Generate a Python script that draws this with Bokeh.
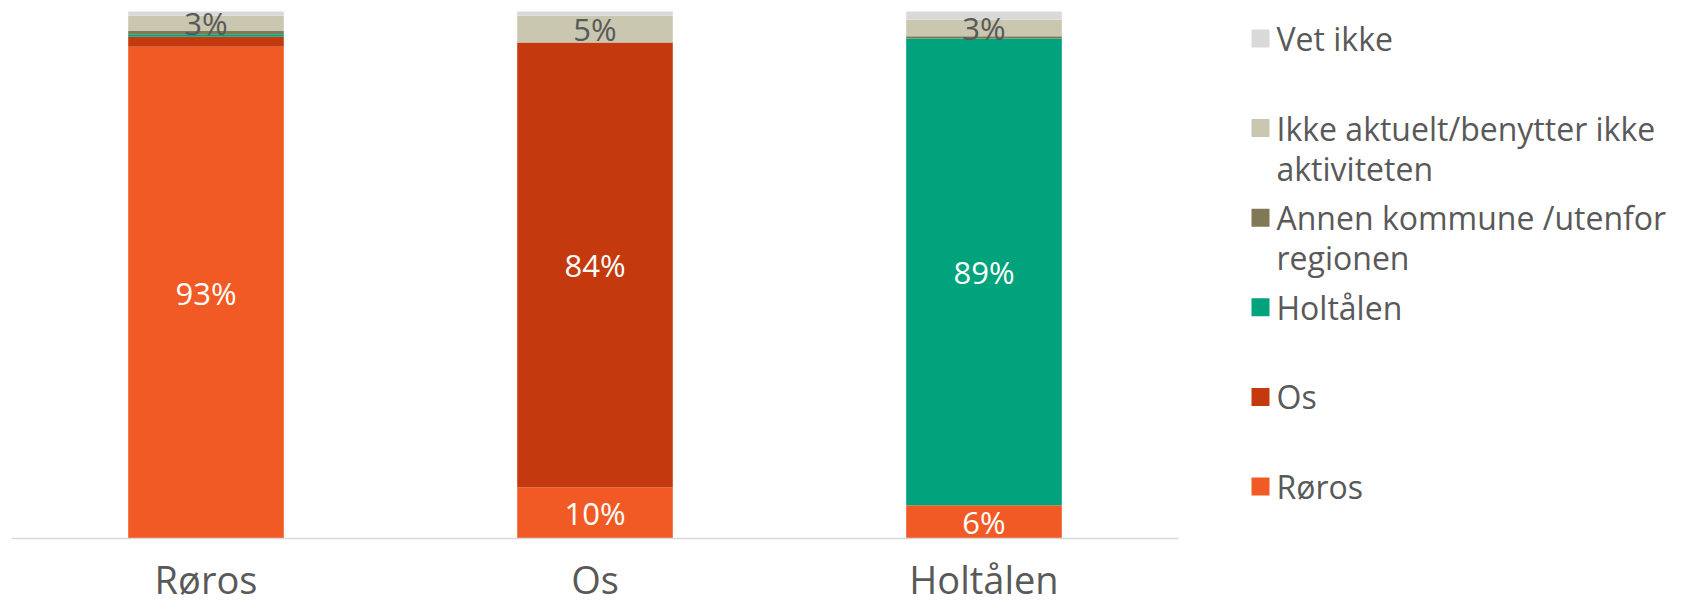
from bokeh.plotting import figure
from bokeh.models import ColumnDataSource, FactorRange, Range1d
from bokeh.layouts import row
from bokeh.core.properties import value
from bokeh.embed import file_html
from bokeh.resources import INLINE

# ---- data ----
categories = ["Røros", "Os", "Holtålen"]
series_names = ["Røros", "Os", "Holtålen", "Annen kommune /utenfor regionen",
                "Ikke aktuelt/benytter ikke aktiviteten", "Vet ikke"]
legend_labels = ["Røros", "Os", "Holtålen", "Annen kommune /utenfor\nregionen",
                 "Ikke aktuelt/benytter ikke\naktiviteten", "Vet ikke"]
roros = [93.3, 9.7, 6.3]
os_ = [1.9, 84.4, 0.0]
holtalen = [0.5, 0.0, 88.6]
annen = [0.6, 0.0, 0.4]
ikke_aktuelt = [2.9, 5.1, 3.2]
vet_ikke = [0.8, 0.8, 1.5]
colors = ["#F15A24", "#C43A0E", "#00A37C", "#7F7A55", "#C9C7B0", "#D9D9D9"]
label_colors = ["white", "white", "white", "white", "#595959", "#595959"]

series = [roros, os_, holtalen, annen, ikke_aktuelt, vet_ikke]
keys = ["s%d" % i for i in range(len(series))]

FONT = "Open Sans"
GREY = "#595959"

data = {"cat": categories}
for k, s in zip(keys, series):
    data[k] = s
src = ColumnDataSource(data)

FRAME_H = 538          # frame from page top to axis line
TOP_PAD = 11           # 100% line sits 11px below frame top
y_end = 100.0 * FRAME_H / (FRAME_H - TOP_PAD)

p = figure(x_range=FactorRange(*categories, range_padding=0),
           y_range=Range1d(0, y_end),
           frame_width=1167, frame_height=FRAME_H,
           min_border_left=11, min_border_top=0, min_border_right=52,
           min_border_bottom=64, title=None,
           output_backend="svg", toolbar_location=None)
p.vbar_stack(keys, x="cat", width=0.4, color=colors, line_color=None, source=src)

# segment labels
lx, ly, lt, lc = [], [], [], []
for j, cat in enumerate(categories):
    base = 0.0
    for i, s in enumerate(series):
        v = s[j]
        if v >= 2.5:
            lx.append(cat)
            ly.append(base + v / 2)
            lt.append("%d%%" % round(v))
            lc.append(label_colors[i])
        base += v
p.text(x=lx, y=ly, text=lt, text_color=lc, text_align="center",
       text_baseline="middle", text_font=value(FONT), text_font_size="31px")

p.yaxis.visible = False
p.xgrid.visible = False
p.ygrid.visible = False
p.outline_line_color = None
p.xaxis.axis_line_color = "#D9D9D9"
p.xaxis.axis_line_width = 1.5
p.xaxis.major_tick_line_color = None
p.xaxis.minor_tick_line_color = None
p.xaxis.major_label_text_font = FONT
p.xaxis.major_label_text_font_size = "38px"
p.xaxis.major_label_text_color = GREY
p.xaxis.major_label_standoff = 8

# ---- legend panel ----
LW, LH = 455, 598
lg = figure(frame_width=LW, frame_height=LH, x_range=Range1d(0, LW),
            y_range=Range1d(LH, 0), min_border=0, title=None,
            output_backend="svg", toolbar_location=None)
lg.axis.visible = False
lg.grid.visible = False
lg.outline_line_color = None

order = list(range(len(series_names)))[::-1]
sq_x, sq_y, sq_c, tx, ty, tt = [], [], [], [], [], []
for pos, i in enumerate(order):
    yc = 38 + pos * 89.6
    sq_x.append(30)
    sq_y.append(yc)
    sq_c.append(colors[i])
    for li, line in enumerate(legend_labels[i].split("\n")):
        tx.append(46)
        ty.append(yc + li * 40)
        tt.append(line)
lg.rect(x=sq_x, y=sq_y, width=18, height=18, color=sq_c, line_color=None)
lg.text(x=tx, y=ty, text=tt, text_color=GREY, text_align="left",
        text_baseline="middle", text_font=value(FONT), text_font_size="32px")

layout = row(p, lg)
open("out.html", "w").write(file_html(layout, INLINE))
